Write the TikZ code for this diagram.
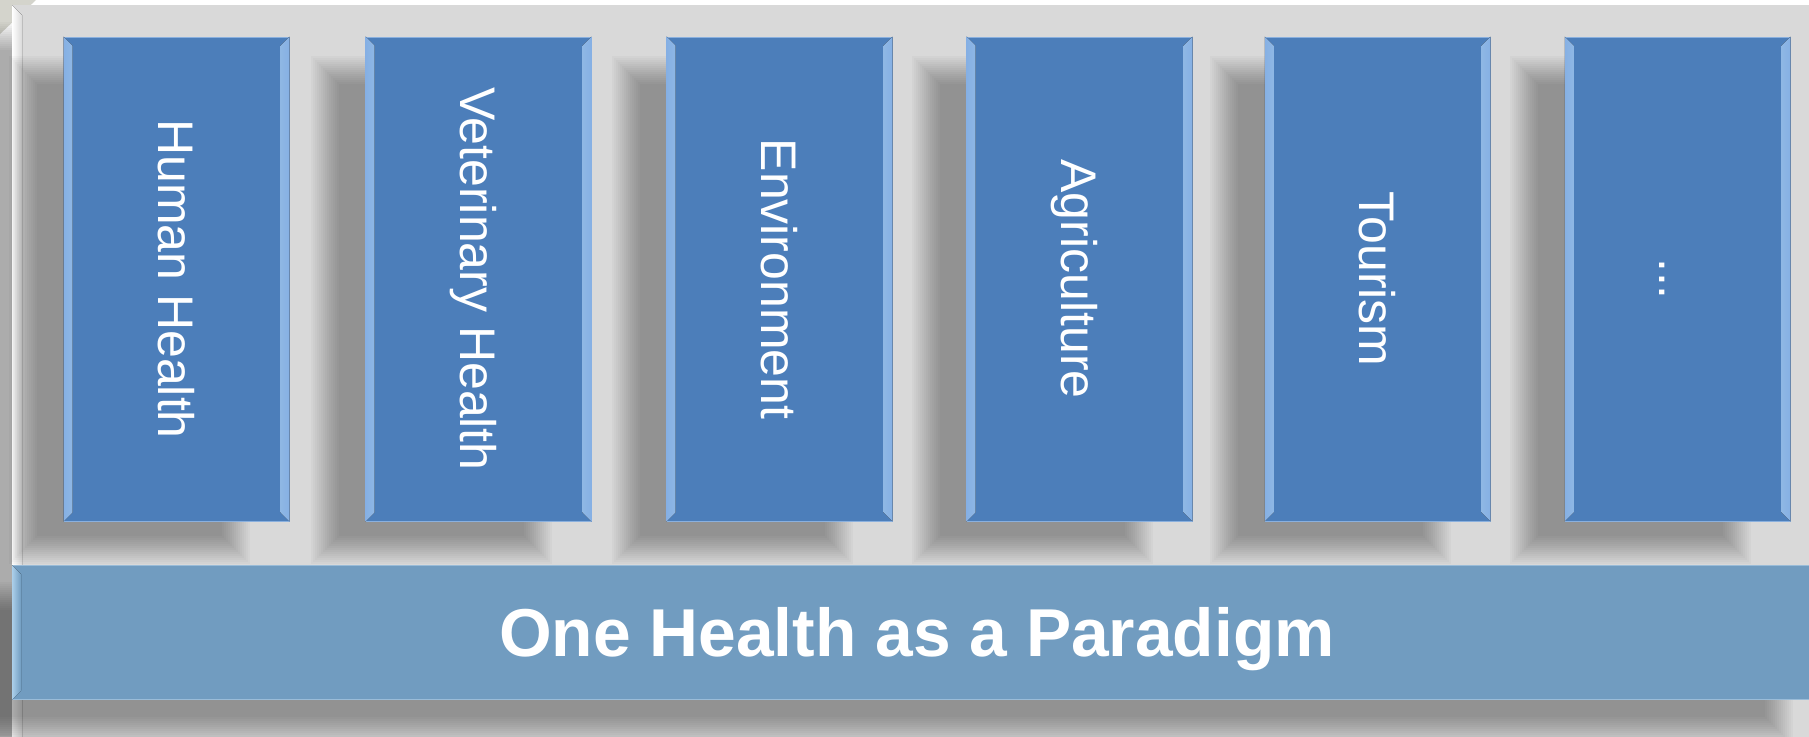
\documentclass[tikz,border=0pt]{standalone}
\usepackage{fontspec}
\setmainfont{Liberation Sans}
\usetikzlibrary{calc}

\definecolor{panelgray}{HTML}{D9D9D9}
\definecolor{cornergray}{HTML}{D4D4CC}
\definecolor{boxblue}{HTML}{4C7EBA}
\definecolor{boxedge}{HTML}{8AB0DE}
\definecolor{bevlight}{HTML}{B2D6FB}
\definecolor{bevouter}{HTML}{86B0E4}
\definecolor{barblue}{HTML}{719CC0}
\definecolor{baredge}{HTML}{9ABCD8}
\definecolor{barlight}{HTML}{C4E5FC}

\pgfdeclarelayer{base}
\pgfdeclarelayer{panel}
\pgfdeclarelayer{shadow}
\pgfsetlayers{base,panel,shadow,main}

\tikzset{every picture/.style={line width=0.75pt}}
\tikzset{
  shadowstep/.style={fill=black, fill opacity=0.022},
  panelbox/.style={rectangle, fill=panelgray, inner sep=0, anchor=north west, minimum width=1372.5pt, minimum height=570pt},
  sectorbox/.style={rectangle, fill=boxblue, draw=boxedge, inner sep=0, minimum width=168.75pt, minimum height=363pt},
  sectorlabel/.style={rotate=-90, text=white, font=\fontsize{37.5}{45}\selectfont, inner sep=0, text height=27pt, text depth=0pt},
  basebar/.style={rectangle, fill=barblue, draw=baredge, inner sep=0, anchor=north west, minimum width=1359.75pt, minimum height=100.5pt},
  baselabel/.style={text=white, font=\fontsize{50.8}{60}\selectfont\bfseries, inner sep=0, text height=36pt, text depth=0pt},
}

% soft drop shadow (down and to the left) of a node: layer, node, x shrink, y shrink
\newcommand{\dropshadow}[4]{%
  \begin{pgfonlayer}{#1}
    \foreach \k in {-7,...,7}{
      \pgfmathsetmacro{\dd}{2*\k}
      \fill[shadowstep] ($(#2.north west)+({-47+#3+\dd},{31+#4+\dd})$) rectangle ($(#2.south east)+({-47-#3-\dd},{31-#4-\dd})$);
    }
  \end{pgfonlayer}}

% bevel strips on the left and right side of a box
\newcommand{\sidebevel}[3]{%
  \fill[left color=#3, middle color=#2, right color=#2!65!boxblue] (#1.north west) -- ($(#1.north west)+(9,9)$) -- ($(#1.south west)+(9,-9)$) -- (#1.south west) -- cycle;
  \fill[left color=#2!65!boxblue, middle color=#2, right color=#3] (#1.north east) -- ($(#1.north east)+(-9,9)$) -- ($(#1.south east)+(-9,-9)$) -- (#1.south east) -- cycle;
}

\begin{document}
\begin{tikzpicture}[x=0.75pt,y=0.75pt,yscale=-1,xscale=1]
    \useasboundingbox (0,0) rectangle (1809,736);
    \begin{pgfonlayer}{base}
      \fill[white] (0,0) rectangle (1809,736);
      \fill[cornergray] (0,0) -- (36,0) -- (0,34) -- cycle;
    \end{pgfonlayer}

    %Shape: Panel
    \begin{pgfonlayer}{panel}
      \node[panelbox] (panel) at (12,5) {};
      \fill[left color=white, right color=panelgray] (panel.north west) -- ($(panel.north west)+(10,10)$) -- (22,740) -- (12,740) -- cycle;
    \end{pgfonlayer}
    \dropshadow{base}{panel}{0}{0}

    %Shape: Rectangle
    \node[sectorbox] (human) at (176.5,279) {};
    \sidebevel{human}{bevlight}{bevouter}
    \dropshadow{shadow}{human}{6}{2}
    %Shape: Rectangle
    \node[sectorbox] (vet) at (478.5,279) {};
    \sidebevel{vet}{bevlight}{bevouter}
    \dropshadow{shadow}{vet}{6}{2}
    %Shape: Rectangle
    \node[sectorbox] (env) at (779.5,279) {};
    \sidebevel{env}{bevlight}{bevouter}
    \dropshadow{shadow}{env}{6}{2}
    %Shape: Rectangle
    \node[sectorbox] (agri) at (1079.5,279) {};
    \sidebevel{agri}{bevlight}{bevouter}
    \dropshadow{shadow}{agri}{6}{2}
    %Shape: Rectangle
    \node[sectorbox] (tour) at (1377.5,279) {};
    \sidebevel{tour}{bevlight}{bevouter}
    \dropshadow{shadow}{tour}{6}{2}
    %Shape: Rectangle
    \node[sectorbox] (more) at (1677.5,279) {};
    \sidebevel{more}{bevlight}{bevouter}
    \dropshadow{shadow}{more}{6}{2}

    % Text Node
    \node[sectorlabel] at (human) {Human Health};
    % Text Node
    \node[sectorlabel] at (vet) {Veterinary Health};
    % Text Node
    \node[sectorlabel] at (env) {Environment};
    % Text Node
    \node[sectorlabel] at (agri) {Agriculture};
    % Text Node
    \node[sectorlabel] at (tour) {Tourism};
    % Text Node
    \node[sectorlabel] at (more) {...};

    %Shape: Bar
    \node[basebar] (base) at (12,565) {};
    \fill[left color=barlight!70!barblue, middle color=barlight, right color=barblue] (base.north west) -- ($(base.north west)+(9,9)$) -- ($(base.south west)+(9,-9)$) -- (base.south west) -- cycle;
    \dropshadow{shadow}{base}{0}{0}

    % Text Node
    \node[baselabel] (title) at (917,632) {One Health as a Paradigm};

\end{tikzpicture}
\end{document}
